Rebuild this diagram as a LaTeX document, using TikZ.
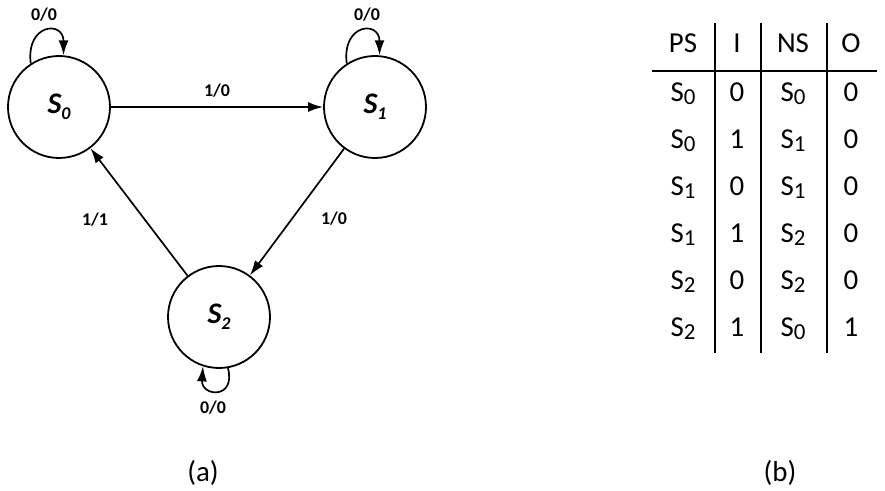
\documentclass[tikz,border=0pt]{standalone}
\usepackage{fontspec}
\setmainfont{Carlito}
\usetikzlibrary{arrows.meta}
\tikzset{
  state/.style={circle, draw, line width=1.8bp, minimum size=102bp, inner sep=0pt,
    font=\fontsize{30}{30}\selectfont\bfseries\itshape},
  edge/.style={line width=1.7bp, -{Latex[length=15bp,width=10bp]}},
  elabel/.style={font=\fontsize{18}{18}\selectfont\bfseries, inner sep=0pt},
  cell/.style={anchor=base, inner sep=0pt, font=\fontsize{29}{29}\selectfont},
  rule/.style={line width=2bp},
  caption/.style={anchor=base, inner sep=0pt, font=\fontsize{29}{29}\selectfont}
}
\newcommand{\stsub}[1]{S\raisebox{-6bp}{\fontsize{18}{18}\selectfont #1}}
\newcommand{\tsub}[1]{S\raisebox{-3bp}{\fontsize{23}{23}\selectfont #1}}
\begin{document}
\begin{tikzpicture}[x=1bp,y=-1bp]
\useasboundingbox (0,0) rectangle (885,491);
% states
\node[state] (S0) at (59,107) {\stsub{0}};
\node[state] (S1) at (375,107) {\stsub{1}};
\node[state] (S2) at (219,317) {\stsub{2}};
% transitions
\draw[edge] (S0) -- (S1);
\draw[edge] (S1) -- (S2);
\draw[edge] (S2) -- (S0);
\draw[edge] (S0.123) .. controls +(-5,-40) and +(0,-35) .. (S0.85);
\draw[edge] (S1.123) .. controls +(-5,-40) and +(0,-35) .. (S1.85);
\draw[edge] (S2.280) .. controls +(8,32) and +(-2,30) .. (S2.252);
% labels
\node[elabel] (l00a) at (44,15) {0/0};
\node[elabel] (l00b) at (367,15) {0/0};
\node[elabel] (l10a) at (217,91) {1/0};
\node[elabel] (l10b) at (334,219) {1/0};
\node[elabel] (l11) at (95,220) {1/1};
\node[elabel] (l00c) at (213,408) {0/0};
% table rules
\coordinate (v1t) at (715,23); \coordinate (v1b) at (715,353);
\coordinate (v2t) at (761,23); \coordinate (v2b) at (761,353);
\coordinate (v3t) at (827,23); \coordinate (v3b) at (827,353);
\coordinate (hl) at (652,71); \coordinate (hr) at (877,71);
\draw[rule] (v1t) -- (v1b);
\draw[rule] (v2t) -- (v2b);
\draw[rule] (v3t) -- (v3b);
\draw[rule] (hl) -- (hr);
% table header
\node[cell] (h1) at (683,53) {PS};
\node[cell] (h2) at (737,53) {I};
\node[cell] (h3) at (793,53) {NS};
\node[cell] (h4) at (851,53) {O};
% table rows
\foreach \ps/\i/\ns/\o [count=\r] in {0/0/0/0, 0/1/1/0, 1/0/1/0, 1/1/2/0, 2/0/2/0, 2/1/0/1} {
  \pgfmathsetmacro{\yy}{55+47*\r}
  \node[cell] (r\r c1) at (683,\yy) {\tsub{\ps}};
  \node[cell] (r\r c2) at (737,\yy) {\i};
  \node[cell] (r\r c3) at (793,\yy) {\tsub{\ns}};
  \node[cell] (r\r c4) at (851,\yy) {\o};
}
% captions
\node[caption] (capa) at (203,481) {(a)};
\node[caption] (capb) at (780,481) {(b)};
\end{tikzpicture}
\end{document}
